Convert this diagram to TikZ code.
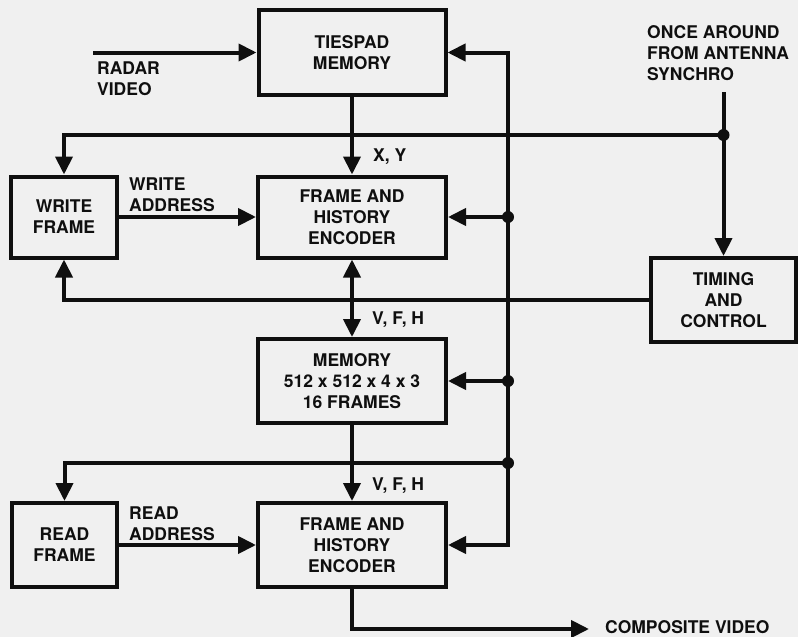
\documentclass[tikz,border=0pt]{standalone}
\usepackage{fontspec}
\setmainfont{TeX Gyre Heros}
\usetikzlibrary{arrows.meta,calc}
\definecolor{paper}{RGB}{240,240,240}
\definecolor{ink}{RGB}{15,15,15}
\newcommand\lblfont{\fontsize{17.5}{21}\selectfont\bfseries}
\begin{document}
\begin{tikzpicture}[x=1pt,y=-1pt,
  box/.style={draw=ink,line width=4pt,inner sep=0pt,align=center,font=\lblfont,text=ink},
  lbl/.style={inner sep=0pt,align=left,font=\lblfont,text=ink},
  wire/.style={draw=ink,line width=4pt},
  arr/.style={wire,-{Triangle[length=18pt,width=17pt]}},
  darr/.style={wire,{Triangle[length=18pt,width=17pt]}-{Triangle[length=18pt,width=17pt]}},
  jdot/.style={circle,fill=ink,inner sep=0pt,minimum size=12pt}]
\fill[paper] (0,0) rectangle (798,637);
\useasboundingbox (0,0) rectangle (798,637);

% boxes
\node[box,minimum width=187pt,minimum height=85pt] (tie) at (352,52.5) {TIESPAD\\MEMORY};
\node[box,minimum width=106pt,minimum height=81pt] (wf) at (64,217) {WRITE\\FRAME};
\node[box,minimum width=188pt,minimum height=81pt] (enc1) at (352,217) {FRAME AND\\HISTORY\\ENCODER};
\node[box,minimum width=145pt,minimum height=84pt] (tc) at (723.5,300) {TIMING\\AND\\CONTROL};
\node[box,minimum width=188pt,minimum height=84pt] (mem) at (352,381) {MEMORY\\512 x 512 x 4 x 3\\16 FRAMES};
\node[box,minimum width=105pt,minimum height=84pt] (rf) at (64.5,545) {READ\\FRAME};
\node[box,minimum width=188pt,minimum height=84pt] (enc2) at (352,545) {FRAME AND\\HISTORY\\ENCODER};

% labels
\node[lbl,anchor=west] (rvl) at (97,79) {RADAR\\VIDEO};
\node[lbl,anchor=west] (wal) at (129,195) {WRITE\\ADDRESS};
\node[lbl,anchor=west] (ral) at (129,524) {READ\\ADDRESS};
\node[lbl,anchor=west] (xy) at (373,157) {X, Y};
\node[lbl,anchor=west] (vfh1) at (372,320) {V, F, H};
\node[lbl,anchor=west] (vfh2) at (372,486) {V, F, H};
\node[lbl,anchor=west] (ant) at (647,53) {ONCE AROUND\\FROM ANTENNA\\SYNCHRO};
\node[lbl,anchor=west] (cv) at (605,627) {COMPOSITE VIDEO};

% coordinates
\coordinate (rv) at (93,52.5);
\coordinate (rb) at (508,0);
\coordinate (antS) at (723.5,92);
\coordinate (j1) at (723.5,135);
\coordinate (j4) at (508,463);
\coordinate (cvS) at (589,629);

% wires
\draw[arr] (rv) -- (tie.west);
\draw[arr] (tie.south) -- (enc1.north);
\draw[darr] (enc1.south) -- (mem.north);
\draw[arr] (mem.south) -- (enc2.north);
\draw[arr] (wf.east) -- (enc1.west);
\draw[arr] (rf.east) -- (enc2.west);
\draw[arr] (antS) -- (tc.north);
\draw[arr] (j1) -| (wf.north);
\draw[arr] (tc.west) -| (wf.south);
\draw[darr] (tie.east) -- (rb |- tie.east) -- (rb |- enc2.east) -- (enc2.east);
\draw[arr] (rb |- enc1.east) -- (enc1.east);
\draw[arr] (rb |- mem.east) -- (mem.east);
\draw[arr] (j4) -| (rf.north);
\draw[arr] (enc2.south) |- (cvS);

% junction dots
\node[jdot] (d1) at (j1) {};
\node[jdot] (d2) at (rb |- enc1.east) {};
\node[jdot] (d3) at (rb |- mem.east) {};
\node[jdot] (d4) at (j4) {};
\end{tikzpicture}
\end{document}
